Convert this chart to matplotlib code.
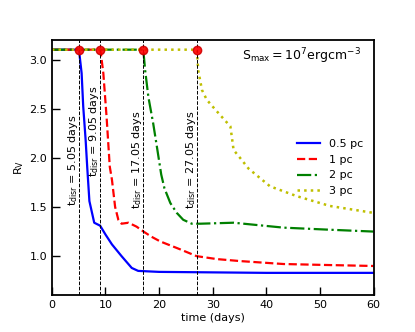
import matplotlib
matplotlib.use("Agg")
import matplotlib.pyplot as plt

plt.rcParams.update({
    "font.family": ["DejaVu Sans"],
    "font.size": 8,
    "mathtext.default": "regular",
})

# disruption times (days)
t_disr = [5.05, 9.05, 17.05, 27.05]
rv_start = 3.1

labels = ["0.5 pc", "1 pc", "2 pc", "3 pc"]

blue_t = [0, 5.05, 5.55, 5.85, 6.3, 6.6, 7.0, 7.9, 9.0, 10.0, 11.2, 13.0, 14.9, 16.1, 20, 30, 40, 60]
blue_rv = [3.1, 3.1, 2.86, 2.52, 2.18, 1.90, 1.56, 1.34, 1.31, 1.22, 1.12, 1.00, 0.88, 0.85, 0.84, 0.835, 0.83, 0.83]

red_t = [0, 9.05, 9.6, 10.2, 10.8, 11.2, 11.8, 12.4, 13.0, 14.3, 15.8, 17.1, 18.5, 20.2, 23.9, 27.0,
         30.8, 35.1, 43.2, 51.3, 60]
red_rv = [3.1, 3.1, 2.86, 2.42, 1.91, 1.78, 1.50, 1.37, 1.33, 1.34, 1.30, 1.25, 1.20, 1.15, 1.07, 1.0,
          0.97, 0.95, 0.92, 0.91, 0.90]

green_t = [0, 17.05, 17.4, 18.0, 18.9, 19.6, 20.4, 21.0, 22.1, 23.3, 24.5, 26.1, 27.7, 33.9, 43.2, 51.3, 60]
green_rv = [3.1, 3.1, 2.89, 2.62, 2.35, 2.11, 1.83, 1.69, 1.54, 1.44, 1.37, 1.33, 1.33, 1.34, 1.29, 1.27, 1.25]

yellow_t = [0, 27.05, 27.3, 28.0, 28.9, 30.5, 32.3, 33.3, 33.9, 35.1, 36.7, 40.7, 45.7, 51.9, 60]
yellow_rv = [3.1, 3.1, 2.89, 2.69, 2.59, 2.49, 2.38, 2.32, 2.08, 2.0, 1.89, 1.71, 1.61, 1.51, 1.44]

fig = plt.figure(figsize=(4.15, 3.32), dpi=100)
ax = fig.add_axes([0.125, 0.11, 0.775, 0.77])

ax.plot(blue_t, blue_rv, "b-", lw=1.6, label=labels[0])
ax.plot(red_t, red_rv, "r--", lw=1.6, label=labels[1])
ax.plot(green_t, green_rv, "g-.", lw=1.6, label=labels[2])
ax.plot(yellow_t, yellow_rv, ":", lw=1.8, label=labels[3], color=(0.75, 0.75, 0))

for t in t_disr:
    ax.axvline(t, color="k", ls="--", lw=0.7)
    ax.plot(t, rv_start, "o", color="red", mec="#d00000", ms=6, alpha=0.9)
    ax.text(t - 1.15, 1.98 if t != 9.05 else 2.27,
            r"$t_{disr}$ = %.2f days" % t,
            rotation=90, ha="center", va="center", fontsize=8)

ax.text(0.96, 0.935, r"$S_{max} = 10^7 erg cm^{-3}$", transform=ax.transAxes,
        ha="right", va="center", fontsize=9)

ax.set_xlim(0, 60)
ax.set_ylim(0.6, 3.2)
ax.set_yticks([1.0, 1.5, 2.0, 2.5, 3.0])
ax.set_xlabel("time (days)", labelpad=2)
ax.set_ylabel(r"$R_V$", labelpad=2)
ax.tick_params(direction="in", length=6, width=1, top=False, right=False)
for sp in ax.spines.values():
    sp.set_linewidth(1.3)

ax.legend(loc="center right", frameon=False, fontsize=8, handlelength=2.1,
          labelspacing=0.5, bbox_to_anchor=(1.0, 0.5))

fig.savefig("out.png", dpi=100)
